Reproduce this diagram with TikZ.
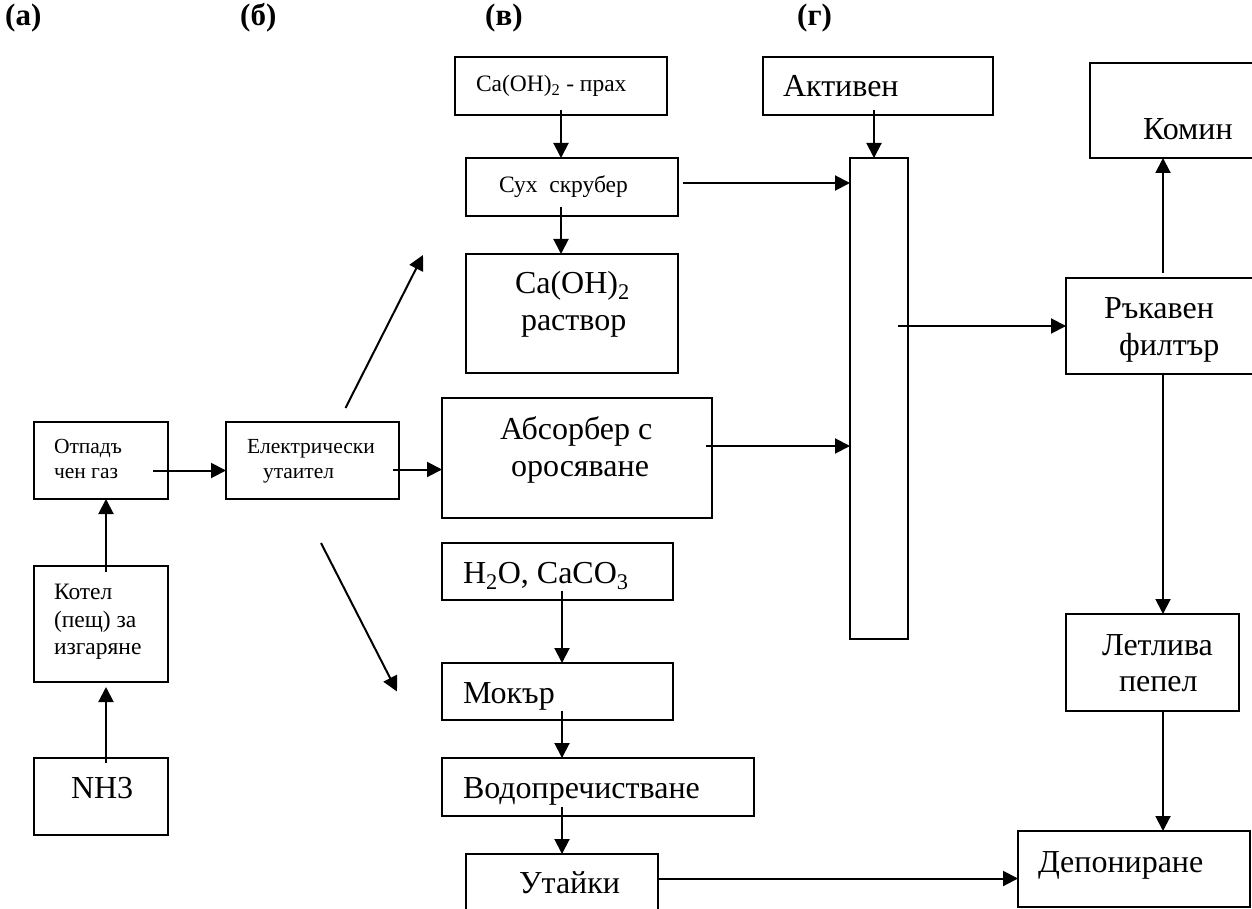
\documentclass[tikz,border=0pt]{standalone}
\usepackage{fontspec}
\setmainfont{Liberation Serif}
\usetikzlibrary{arrows.meta,calc}

% box given by its corners: name, x1, y1, x2, y2 (y grows downwards)
\newcommand\flowbox[5]{%
  \node[box, anchor=north west, minimum width={(#4-#2)*1pt},
        minimum height={(#5-#3)*1pt}] (#1) at (#2,#3) {};}

\begin{document}
\begin{tikzpicture}[x=1pt, y=-1pt,
  box/.style={draw, line width=2pt, inner sep=0pt, outer sep=0pt},
  flow/.style={line width=2pt, -{Triangle[length=15pt,width=15pt]}},
  big/.style={font=\fontsize{32}{37}\selectfont},
  mid/.style={font=\fontsize{23.5}{27}\selectfont},
  small/.style={font=\fontsize{21.5}{25}\selectfont},
  txt/.style={anchor=base west, inner sep=0pt, outer sep=0pt},
  lbl/.style={anchor=base west, inner sep=0pt, font=\bfseries\fontsize{31}{36}\selectfont}]

\useasboundingbox[fill=white] (0,0) rectangle (1252,909);

% column headings
\node[lbl] (la) at (5,26) {(а)};
\node[lbl] (lb) at (240,26) {(б)};
\node[lbl] (lc) at (485,26) {(в)};
\node[lbl] (ld) at (797,26) {(г)};

% boxes
\flowbox{otpad}{34}{422}{168}{499}
\flowbox{kotel}{34}{566}{168}{682}
\flowbox{nh}{34}{758}{168}{835}
\flowbox{elektr}{226}{422}{399}{499}
\flowbox{prah}{455}{57}{667}{115}
\flowbox{sux}{466}{158}{678}{216}
\flowbox{rastvor}{466}{254}{678}{373}
\flowbox{absorb}{442}{398}{712}{518}
\flowbox{hdo}{442}{543}{673}{600}
\flowbox{mokar}{442}{663}{673}{720}
\flowbox{vodo}{442}{758}{754}{816}
\flowbox{utaiki}{466}{854}{658}{915}
\flowbox{aktiv}{763}{57}{993}{115}
\flowbox{tall}{850}{158}{908}{639}
\flowbox{komin}{1090}{63}{1262}{158}
\flowbox{rakaven}{1066}{278}{1262}{374}
\flowbox{letliva}{1066}{614}{1239}{711}
\flowbox{depon}{1018}{831}{1250}{907}

% texts
\node[txt,small] (t-otp1) at (54,453) {Отпадъ};
\node[txt,small] (t-otp2) at (54,478) {чен газ};
\node[txt,mid] (t-kot1) at (54,599) {Котел};
\node[txt,mid] (t-kot2) at (54,627) {(пещ) за};
\node[txt,mid] (t-kot3) at (54,654) {изгаряне};
\node[txt,big] (t-nh) at (71,798) {NH3};
\node[txt,small] (t-el1) at (247,453) {Електрически};
\node[txt,small] (t-el2) at (263,478) {утаител};
\node[txt,mid] (t-prah) at (476,92) {Ca(OH)\textsubscript{2} - прах};
\node[txt,mid] (t-sux) at (499,193) {Сух\ \ скрубер};
\node[txt,big] (t-ras1) at (515,293) {Ca(OH)\textsubscript{2}};
\node[txt,big] (t-ras2) at (521,330) {раствор};
\node[txt,big] (t-abs1) at (500,439) {Абсорбер с};
\node[txt,big] (t-abs2) at (511,476) {оросяване};
\node[txt,big] (t-hdo) at (463,583) {H\textsubscript{2}O, CaCO\textsubscript{3}};
\node[txt,big] (t-mok) at (463,703) {Мокър};
\node[txt,big] (t-vodo) at (463,798) {Водопречистване};
\node[txt,big] (t-uta) at (519,893) {Утайки};
\node[txt,big] (t-akt) at (783,97) {Активен};
\node[txt,big] (t-kom) at (1143,140) {Комин};
\node[txt,big] (t-rak1) at (1104,318) {Ръкавен};
\node[txt,big] (t-rak2) at (1119,355) {филтър};
\node[txt,big] (t-let1) at (1102,655) {Летлива};
\node[txt,big] (t-let2) at (1119,691) {пепел};
\node[txt,big] (t-dep) at (1038,872) {Депониране};

% helper points
\coordinate (colv) at ($(mokar.south)+(4.5,0)$);
\coordinate (colk) at ($(kotel.north)+(5,0)$);
\coordinate (s1) at ($(sux.east)+(5,-4)$);
\coordinate (a1) at ($(absorb.east)+(-6,-12)$);
\coordinate (t1) at ($(tall.east)+(-10,0)$);
\coordinate (u1) at ($(utaiki.east)+(0,-6)$);
\coordinate (o1) at ($(otpad.east)+(-15,10)$);
\coordinate (e1) at ($(elektr.east)+(-6,9)$);
\coordinate (e2) at ($(elektr.north)+(33,-14)$);
\coordinate (e3) at ($(elektr.south)+(8.5,44)$);
\coordinate (upend) at ($(rastvor.north west)+(-43,1)$);
\coordinate (downend) at ($(mokar.west)+(-45,0)$);

% connectors
\draw[flow] ($(colk |- nh.north)+(0,5)$) -- ($(colk |- kotel.south)+(0,5)$);
\draw[flow] ($(colk)+(0,6)$) -- (colk |- otpad.south);
\draw[flow] (o1) -- (o1 -| elektr.west);
\draw[flow] (e1) -- (e1 -| absorb.west);
\draw[flow] (e2) -- (upend);
\draw[flow] (e3) -- (downend);

\draw[flow] ($(prah.south)+(0,-5)$) -- (prah.south |- sux.north);
\draw[flow] ($(prah.south |- sux.south)+(0,-9)$) -- (prah.south |- rastvor.north);
\draw[flow] (s1) -- (s1 -| tall.west);
\draw[flow] (a1) -- (a1 -| tall.west);
\draw[flow] ($(aktiv.south)+(-4,-5)$) -- ($(tall.north)+(-5,0)$);
\draw[flow] (t1 |- rakaven.west) -- (rakaven.west);

\draw[flow] ($(colv |- hdo.south)+(0,-9)$) -- (colv |- mokar.north);
\draw[flow] ($(colv |- mokar.south)+(0,-9)$) -- (colv |- vodo.north);
\draw[flow] ($(colv |- vodo.south)+(0,-9)$) -- (colv |- utaiki.north);
\draw[flow] (u1) -- (u1 -| depon.west);

\draw[flow] ($(rakaven.north)+(-1,-5)$) -- ($(rakaven.north |- komin.south)+(-1,0)$);
\draw[flow] ($(rakaven.south)+(-1,0)$) -- ($(rakaven.south |- letliva.north)+(-1,0)$);
\draw[flow] ($(rakaven.south |- letliva.south)+(-1,0)$) -- ($(rakaven.south |- depon.north)+(-1,0)$);
\end{tikzpicture}
\end{document}
